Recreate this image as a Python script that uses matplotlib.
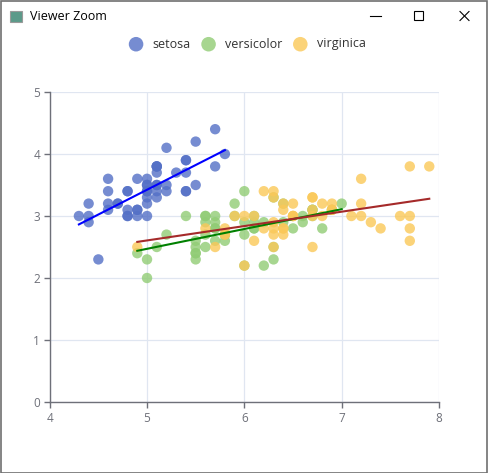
import numpy as np
import matplotlib
matplotlib.use("Agg")
import matplotlib.pyplot as plt
from matplotlib.patches import Rectangle
from matplotlib.lines import Line2D

species = ["setosa", "versicolor", "virginica"]

setosa_len = [5.1, 4.9, 4.7, 4.6, 5.0, 5.4, 4.6, 5.0, 4.4, 4.9, 5.4, 4.8, 4.8, 4.3, 5.8, 5.7, 5.4,
              5.1, 5.7, 5.1, 5.4, 5.1, 4.6, 5.1, 4.8, 5.0, 5.0, 5.2, 5.2, 4.7, 4.8, 5.4, 5.2, 5.5,
              4.9, 5.0, 5.5, 4.9, 4.4, 5.1, 5.0, 4.5, 4.4, 5.0, 5.1, 4.8, 5.1, 4.6, 5.3, 5.0]
setosa_wid = [3.5, 3.0, 3.2, 3.1, 3.6, 3.9, 3.4, 3.4, 2.9, 3.1, 3.7, 3.4, 3.0, 3.0, 4.0, 4.4, 3.9,
              3.5, 3.8, 3.8, 3.4, 3.7, 3.6, 3.3, 3.4, 3.0, 3.4, 3.5, 3.4, 3.2, 3.1, 3.4, 4.1, 4.2,
              3.1, 3.2, 3.5, 3.6, 3.0, 3.4, 3.5, 2.3, 3.2, 3.5, 3.8, 3.0, 3.8, 3.2, 3.7, 3.3]
versi_len = [7.0, 6.4, 6.9, 5.5, 6.5, 5.7, 6.3, 4.9, 6.6, 5.2, 5.0, 5.9, 6.0, 6.1, 5.6, 6.7, 5.6,
             5.8, 6.2, 5.6, 5.9, 6.1, 6.3, 6.1, 6.4, 6.6, 6.8, 6.7, 6.0, 5.7, 5.5, 5.5, 5.8, 6.0,
             5.4, 6.0, 6.7, 6.3, 5.6, 5.5, 5.5, 6.1, 5.8, 5.0, 5.6, 5.7, 5.7, 6.2, 5.1, 5.7]
versi_wid = [3.2, 3.2, 3.1, 2.3, 2.8, 2.8, 3.3, 2.4, 2.9, 2.7, 2.0, 3.0, 2.2, 2.9, 2.9, 3.1, 3.0,
             2.7, 2.2, 2.5, 3.2, 2.8, 2.5, 2.8, 2.9, 3.0, 2.8, 3.0, 2.9, 2.6, 2.4, 2.4, 2.7, 2.7,
             3.0, 3.4, 3.1, 2.3, 3.0, 2.5, 2.6, 3.0, 2.6, 2.3, 2.7, 3.0, 2.9, 2.9, 2.5, 2.8]
virg_len = [6.3, 5.8, 7.1, 6.3, 6.5, 7.6, 4.9, 7.3, 6.7, 7.2, 6.5, 6.4, 6.8, 5.7, 5.8, 6.4, 6.5,
            7.7, 7.7, 6.0, 6.9, 5.6, 7.7, 6.3, 6.7, 7.2, 6.2, 6.1, 6.4, 7.2, 7.4, 7.9, 6.4, 6.3,
            6.1, 7.7, 6.3, 6.4, 6.0, 6.9, 6.7, 6.9, 5.8, 6.8, 6.7, 6.7, 6.3, 6.5, 6.2, 5.9]
virg_wid = [3.3, 2.7, 3.0, 2.9, 3.0, 3.0, 2.5, 2.9, 2.5, 3.6, 3.2, 2.7, 3.0, 2.5, 2.8, 3.2, 3.0,
            3.8, 2.6, 2.2, 3.2, 2.8, 2.8, 2.7, 3.3, 3.2, 2.8, 3.0, 2.8, 3.0, 2.8, 3.8, 2.8, 2.8,
            2.6, 3.0, 3.4, 3.1, 3.0, 3.1, 3.1, 3.1, 2.7, 3.2, 3.3, 3.0, 2.5, 3.0, 3.4, 3.0]

xticks = [4, 5, 6, 7, 8]
yticks = [0, 1, 2, 3, 4, 5]

dot_colors = ["#5470c6", "#91cc75", "#fac858"]
line_colors = ["#0000ff", "#008000", "#a52a2a"]

plt.rcParams['font.family'] = ['Open Sans', 'DejaVu Sans']

fig = plt.figure(figsize=(4.89, 4.73), dpi=100)
W, H = 489, 473

# window chrome
fig.patches.append(Rectangle((0.5 / W, 0.5 / H), (W - 2) / W, (H - 1.5) / H, transform=fig.transFigure,
                             fill=False, edgecolor="#6f6f6f", linewidth=1.2))
fig.patches.append(Rectangle((10 / W, 1 - 22 / H), 12 / W, 11 / H, transform=fig.transFigure,
                             facecolor="#5c9a8a", edgecolor="#9a9a9a", linewidth=0.8))
fig.text(30 / W, 1 - 16 / H, "Viewer Zoom", fontsize=9, va="center", ha="left", color="#000000")
fig.add_artist(Line2D([370 / W, 381 / W], [1 - 16 / H, 1 - 16 / H], color="#000", lw=0.8))
fig.patches.append(Rectangle((414 / W, 1 - 20.5 / H), 9 / W, 9 / H, transform=fig.transFigure,
                             fill=False, edgecolor="#000", linewidth=0.8))
fig.add_artist(Line2D([460 / W, 469 / W], [1 - 11.5 / H, 1 - 20.5 / H], color="#000", lw=0.8))
fig.add_artist(Line2D([460 / W, 469 / W], [1 - 20.5 / H, 1 - 11.5 / H], color="#000", lw=0.8))

ax = fig.add_axes([49.7 / W, (H - 402) / H, (439 - 49.7) / W, 310 / H])

xs_all = [setosa_len, versi_len, virg_len]
ys_all = [setosa_wid, versi_wid, virg_wid]
handles = []
for name, xs, ys, c in zip(species, xs_all, ys_all, dot_colors):
    h = ax.scatter(xs, ys, s=56, color=c, alpha=0.8, edgecolors="none", zorder=3, label=name)
    handles.append(h)

# regression line per species, from min to max x
for i in range(3):
    xs = np.array(xs_all[i])
    ys = np.array(ys_all[i])
    k, b = np.polyfit(xs, ys, 1)
    lx = np.array([xs.min(), xs.max()])
    ax.plot(lx, k * lx + b, color=line_colors[i], lw=1.5, zorder=4)

ax.set_xlim(4, 8)
ax.set_ylim(0, 5)
ax.set_xticks(xticks)
ax.set_yticks(yticks)
ax.grid(True, color="#e0e6f1", lw=0.9, zorder=0)
ax.set_axisbelow(True)
for s in ["top", "right"]:
    ax.spines[s].set_visible(False)
for s in ["left", "bottom"]:
    ax.spines[s].set_color("#6e7079")
    ax.spines[s].set_linewidth(1.0)
ax.tick_params(colors="#6e7079", labelsize=8.5, length=4, width=1.0, pad=3)

fig.legend(handles=handles, loc="center", bbox_to_anchor=(0.5, 1 - 44 / H), ncol=3, frameon=False,
           fontsize=9, handletextpad=0.3, columnspacing=0.45, markerscale=1.4, labelcolor="#333333")

fig.savefig("out.png", dpi=100)
